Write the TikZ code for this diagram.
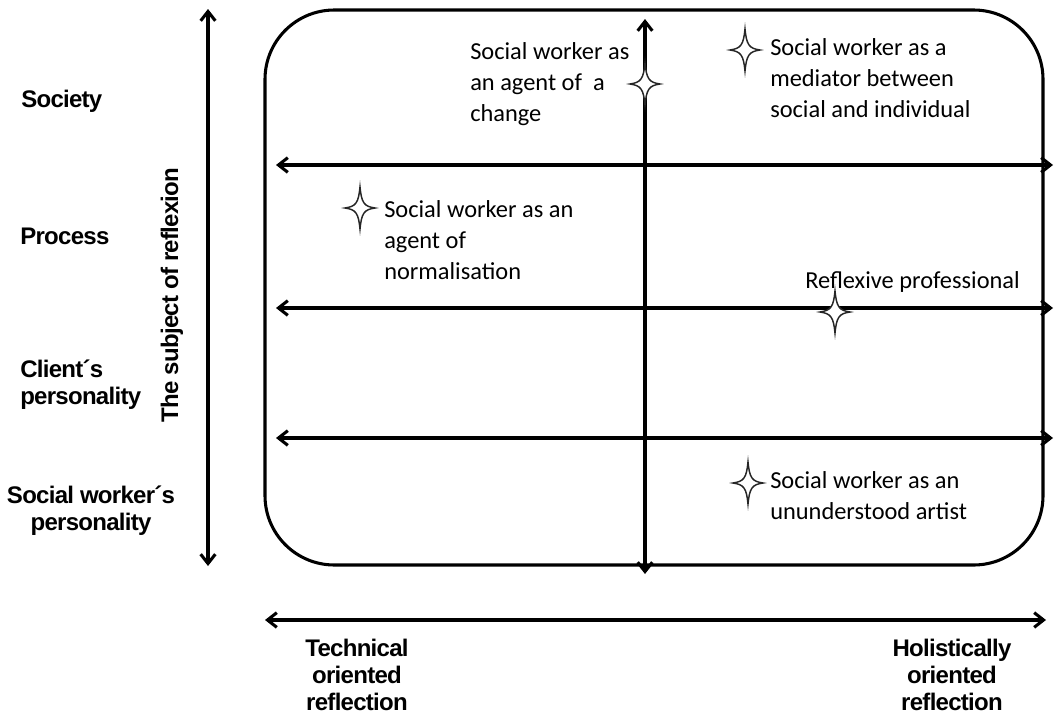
\documentclass[tikz,border=0pt]{standalone}
\usepackage{fontspec}
\setmainfont{Carlito}
\newfontfamily\labelfont[LetterSpace=-3]{Liberation Sans}
\usetikzlibrary{arrows.meta}
\begin{document}
\begin{tikzpicture}[x=0.75pt,y=-0.75pt,
  axis/.style={line width=2.3pt,{Straight Barb[length=7pt,width=11pt]}-{Straight Barb[length=7pt,width=11pt]}},
  frame/.style={line width=2.3pt,rounded corners=52pt},
  rowlabel/.style={font=\labelfont\bfseries\fontsize{18}{20}\selectfont,align=left,anchor=west,inner sep=0pt},
  colabel/.style={font=\labelfont\bfseries\fontsize{18}{20}\selectfont,align=center,inner sep=0pt},
  role/.style={font=\fontsize{18.3}{23.2}\selectfont,align=left,anchor=west,inner sep=0pt},
  spark/.pic={\draw[line width=1.1pt,draw=black!85,fill=white]
      (0,-21) .. controls (1.6,-5) and (4,-1.6) .. (15,0)
      .. controls (4,1.6) and (1.6,5) .. (0,21)
      .. controls (-1.6,5) and (-4,1.6) .. (-15,0)
      .. controls (-4,-1.6) and (-1.6,-5) .. cycle;}]
\useasboundingbox (0,0) rectangle (1054,714);

% quadrant frame
\draw[frame] (265,10) rectangle (1043,565);

% coordinates of the axes
\coordinate (vtop) at (645,19);
\coordinate (vbot) at (645,574);
\coordinate (h1l) at (276,165); \coordinate (h1r) at (1053,165);
\coordinate (h2l) at (276,308); \coordinate (h2r) at (1053,308);
\coordinate (h3l) at (276,438); \coordinate (h3r) at (1053,438);
\coordinate (ltop) at (208,9);  \coordinate (lbot) at (208,566);
\coordinate (bl) at (265,620);  \coordinate (br) at (1046,620);

\draw[axis] (vtop) -- (vbot);
\draw[axis] (h1l) -- (h1r);
\draw[axis] (h2l) -- (h2r);
\draw[axis] (h3l) -- (h3r);
\draw[axis] (ltop) -- (lbot);
\draw[axis] (bl) -- (br);

% row labels
\node[rowlabel] (society) at (21,101) {Society};
\node[rowlabel] (process) at (20,236) {Process};
\node[rowlabel] (client) at (20,385) {Client´s\\personality};
\node[colabel] (worker) at (91,511) {Social worker´s\\personality};
\node[colabel,rotate=90] (subject) at (172,295) {The subject of reflexion};

% column labels
\node[colabel] (technical) at (357,675) {Technical\\oriented\\reflection};
\node[colabel] (holistic) at (952,675) {Holistically\\oriented\\reflection};

% roles
\node[role] (change) at (470,84) {Social worker as\\an agent of\ \ a\\change};
\node[role] (mediator) at (770,78) {Social worker as a\\mediator between\\social and individual};
\node[role] (normal) at (384,240) {Social worker as an\\agent of\\normalisation};
\node[role] (reflexive) at (805,282) {Reflexive professional};
\node[role] (artist) at (770,496) {Social worker as an\\ununderstood artist};

% markers
\pic at (645,84) {spark};
\pic at (745,50) {spark};
\pic at (360,208) {spark};
\pic at (835,312) {spark};
\pic at (748,483) {spark};
\end{tikzpicture}
\end{document}
